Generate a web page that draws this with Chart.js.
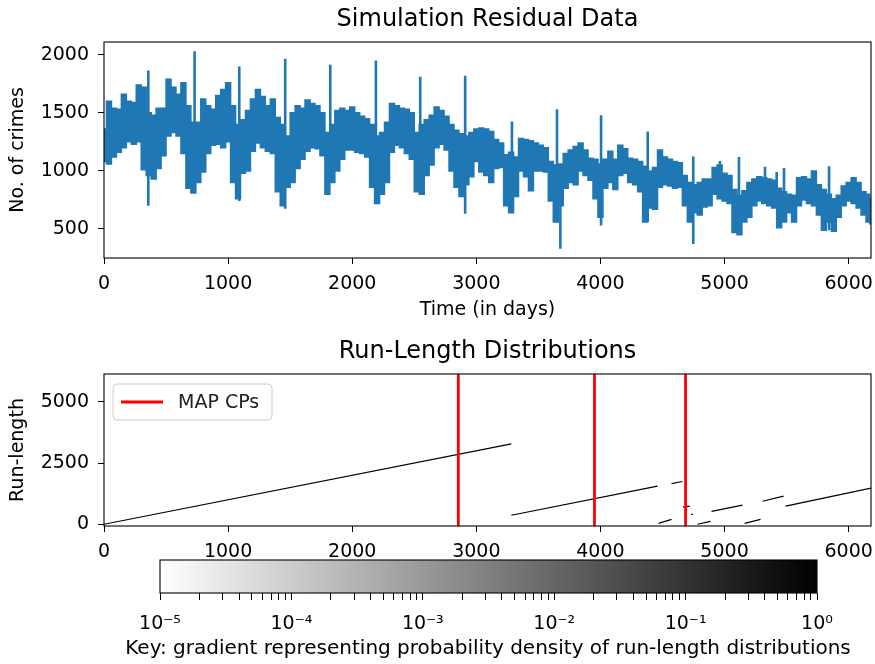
<!DOCTYPE html>
<html>
<head>
<meta charset="utf-8">
<title>Simulation Residual Data</title>
<script src="https://cdn.jsdelivr.net/npm/chart.js@4.4.1/dist/chart.umd.min.js"></script>
<style>
  html, body { margin: 0; padding: 0; background: #fff; }
  #wrap { position: relative; width: 875px; height: 664px; overflow: hidden; }
  canvas { position: absolute; }
</style>
</head>
<body>
<div id="wrap">
  <canvas id="residualChart" width="875" height="330" style="top:0;left:0"></canvas>
  <canvas id="runLengthChart" width="875" height="230" style="top:330px;left:0"></canvas>
  <canvas id="keyChart" width="750" height="109" style="top:555px;left:113px"></canvas>
</div>
<script>
// --- data ---
// residual series, as a band (upper / lower edge) sampled every 40 days
const sampleDays = [0,40,80,120,160,200,240,280,320,360,400,440,480,520,560,600,640,680,720,760,
  800,840,880,920,960,1000,1040,1080,1120,1160,1200,1240,1280,1320,1360,1400,1440,1480,1520,1560,
  1600,1640,1680,1720,1760,1800,1840,1880,1920,1960,2000,2040,2080,2120,2160,2200,2240,2280,2320,2360,
  2400,2440,2480,2520,2560,2600,2640,2680,2720,2760,2800,2840,2880,2920,2960,3000,3040,3080,3120,3160,
  3200,3240,3280,3320,3360,3400,3440,3480,3520,3560,3600,3640,3680,3720,3760,3800,3840,3880,3920,3960,
  4000,4040,4080,4120,4160,4200,4240,4280,4320,4360,4400,4440,4480,4520,4560,4600,4640,4680,4720,4760,
  4800,4840,4880,4920,4960,5000,5040,5080,5120,5160,5200,5240,5280,5320,5360,5400,5440,5480,5520,5560,
  5600,5640,5680,5720,5760,5800,5840,5880,5920,5960,6000,6040,6080,6120,6160,6180];
const upperCount = [1360,1600,1540,1530,1660,1600,1590,1740,1720,1500,1480,1540,1540,1790,1720,1660,1760,1560,1420,1420,
  1620,1560,1530,1650,1700,1760,1560,1400,1440,1520,1620,1700,1640,1560,1620,1460,1400,1300,1500,1560,
  1540,1610,1580,1560,1500,1330,1400,1520,1540,1520,1550,1500,1470,1450,1400,1300,1330,1420,1580,1560,
  1540,1530,1500,1330,1400,1440,1480,1550,1520,1470,1400,1350,1320,1300,1330,1360,1370,1360,1340,1270,
  1240,1140,1160,1120,1280,1270,1260,1240,1220,1200,1080,1050,1060,1150,1180,1210,1240,1180,1110,1100,
  1060,1100,1170,1100,1220,1190,1110,1100,1080,1040,1000,1030,1180,1120,1100,1080,1070,960,900,880,
  900,930,930,1030,1050,980,960,840,790,830,900,930,950,940,930,920,850,820,800,790,
  940,950,930,1000,880,840,800,760,790,870,900,940,900,820,800,760];
const lowerCount = [1080,1060,1120,1160,1200,1250,1230,1250,1010,960,930,1020,1130,1300,1330,1300,1150,850,810,900,
  990,1150,1220,1230,1200,1250,900,760,980,1000,1170,1240,1200,1170,1150,820,700,860,900,1020,
  1100,1170,1200,1190,1130,800,900,1000,1100,1180,1180,1160,1150,1120,860,720,800,900,1160,1220,
  1200,1150,1100,820,800,960,1050,1200,1230,1180,1000,860,780,880,950,1080,990,960,900,1020,
  1030,700,640,780,1000,950,830,1000,1000,990,740,560,700,850,900,880,1000,960,920,760,
  600,850,900,840,960,980,900,880,820,560,680,670,860,880,870,850,860,700,560,640,
  620,690,700,800,760,740,720,470,450,560,600,700,740,720,700,680,510,560,640,560,
  700,750,720,700,620,490,560,480,600,700,740,720,680,620,560,545];
// single-day spikes sticking out of the band
const spikeDays = [357,730,1090,1460,1823,2191,2548,2910,3287,3650,3677,4005,4381,4748,4963,5116,5326,5420,5479,5842];
const spikeLow  = [700,850,740,675,900,720,800,630,700,560,330,530,560,370,760,450,720,680,560,490];
const spikeHigh = [1865,2030,1900,1965,1915,1950,1810,1820,1425,1530,1000,1480,1340,1125,1085,1120,1035,990,1025,1040];

// MAP run-length segments
const runStartDay = [0,3282,4468,4573,4665,4730,4782,4895,5161,5306,5492];
const runStartLen = [0,369,40,1660,700,400,0,530,40,940,740];
const runEndDay   = [3282,4460,4573,4661,4720,4745,4887,5145,5290,5476,6180];
const runEndLen   = [3282,1557,200,1748,740,415,120,780,200,1150,1475];
// MAP change points
const cpDays = [2855,3952,4686];

// tick labels
const dayTicks = [0,1000,2000,3000,4000,5000,6000];
const crimeTicks = [500,1000,1500,2000];
const runTicks = [0,2500,5000];
const keyDecades = [1e-5,1e-4,1e-3,1e-2,1e-1,1];
const keyMinorSteps = [2,3,4,5,6,7,8,9];

// --- look ---
const BLUE = '#1f77b4';
Chart.defaults.font.family = '"DejaVu Sans", sans-serif';
Chart.defaults.font.size = 19;
Chart.defaults.color = '#000';

const frame = {
  id: 'frame',
  afterDraw(chart) {
    const {ctx, chartArea: a} = chart;
    ctx.save();
    ctx.strokeStyle = '#000';
    ctx.lineWidth = 1.1;
    ctx.strokeRect(a.left, a.top, a.right - a.left, a.bottom - a.top);
    ctx.restore();
  }
};

const mapLegend = {
  id: 'mapLegend',
  afterDatasetsDraw(chart) {
    const {ctx, chartArea: a} = chart;
    const ds = chart.data.datasets[0];
    const x = a.left + 9, y = a.top + 10, w = 159, h = 36;
    ctx.save();
    ctx.beginPath();
    ctx.roundRect(x, y, w, h, 4);
    ctx.fillStyle = 'rgba(255,255,255,0.8)';
    ctx.fill();
    ctx.strokeStyle = '#cccccc';
    ctx.lineWidth = 1;
    ctx.stroke();
    ctx.beginPath();
    ctx.moveTo(x + 8, y + h / 2);
    ctx.lineTo(x + 50, y + h / 2);
    ctx.strokeStyle = ds.borderColor;
    ctx.lineWidth = ds.borderWidth;
    ctx.stroke();
    ctx.fillStyle = '#222';
    ctx.font = '19px "DejaVu Sans"';
    ctx.textBaseline = 'middle';
    ctx.fillText(ds.label, x + 65, y + h / 2 + 1);
    ctx.restore();
  }
};

function fixTicks(list) {
  return s => { s.ticks = list.map(v => ({value: v})); };
}
function noOverhang(size, horizontal) {
  return s => {
    if (horizontal) s.height = size; else s.width = size;
    s.paddingLeft = 0; s.paddingRight = 0; s.paddingTop = 0; s.paddingBottom = 0;
  };
}
const tickGrid = {drawOnChartArea: false, color: '#000', tickLength: 6, lineWidth: 1};
const plain = v => String(v);

function xAxis(height, titleText) {
  return {
    type: 'linear', min: 0, max: 6180,
    afterBuildTicks: fixTicks(dayTicks),
    afterFit: noOverhang(height, true),
    grid: tickGrid,
    border: {display: false},
    ticks: {padding: 9, maxRotation: 0, autoSkip: false, callback: plain},
    title: titleText ? {display: true, text: titleText, padding: {top: 0, bottom: 8.6}} : {display: false}
  };
}
function panelTitle(text, padTop, padBottom) {
  return {display: true, text: text, fullSize: false, font: {size: 24, weight: 'normal'},
          padding: {top: padTop, bottom: padBottom}};
}
// empty side axis that only reserves room
function spacer(pos, width) {
  return {type: 'category', position: pos, display: true, afterFit: noOverhang(width, false),
          ticks: {display: false}, grid: {display: false}, border: {display: false}};
}

// --- top: residual data ---
const bandUpper = sampleDays.map((d, i) => ({x: d, y: upperCount[i]}));
const bandLower = sampleDays.map((d, i) => ({x: d, y: lowerCount[i]}));
const spikePts = [];
spikeDays.forEach((d, i) => {
  spikePts.push({x: d, y: spikeLow[i]}, {x: d, y: spikeHigh[i]}, {x: d, y: null});
});

new Chart(document.getElementById('residualChart'), {
  type: 'line',
  data: {
    datasets: [
      {data: bandUpper, borderColor: BLUE, borderWidth: 1.5, pointRadius: 0, stepped: 'middle', fill: false},
      {data: bandLower, borderColor: BLUE, borderWidth: 1.5, pointRadius: 0, stepped: 'middle',
       fill: '-1', backgroundColor: BLUE},
      {data: spikePts, borderColor: BLUE, borderWidth: 2.6, pointRadius: 0, fill: false, spanGaps: false}
    ]
  },
  options: {
    responsive: false, animation: false, events: [],
    layout: {padding: {left: 0, right: 4, top: 0, bottom: 0}},
    plugins: {
      legend: {display: false}, tooltip: {enabled: false},
      title: panelTitle('Simulation Residual Data', 5.6, 7.6)
    },
    scales: {
      x: xAxis(72, 'Time (in days)'),
      y: {
        type: 'linear', min: 250, max: 2110,
        afterBuildTicks: fixTicks(crimeTicks),
        afterFit: noOverhang(104, false),
        grid: tickGrid, border: {display: false},
        ticks: {padding: 9, callback: plain},
        title: {display: true, text: 'No. of crimes', padding: {top: 7, bottom: 0}}
      }
    }
  },
  plugins: [frame]
});

// --- middle: run-length distributions ---
const runMin = -70, runMax = 6135;
const runPts = [];
runStartDay.forEach((d, i) => {
  runPts.push({x: d, y: runStartLen[i]}, {x: runEndDay[i], y: runEndLen[i]}, {x: runEndDay[i], y: null});
});
const cpPts = [];
cpDays.forEach(d => { cpPts.push({x: d, y: runMin}, {x: d, y: runMax}, {x: d, y: null}); });

new Chart(document.getElementById('runLengthChart'), {
  type: 'line',
  data: {
    datasets: [
      {label: 'MAP CPs', data: cpPts, borderColor: '#ff0000', borderWidth: 2.8, pointRadius: 0, spanGaps: false},
      {label: 'run-length', data: runPts, borderColor: '#000', borderWidth: 1.2, pointRadius: 0, spanGaps: false}
    ]
  },
  options: {
    responsive: false, animation: false, events: [],
    layout: {padding: {left: 0, right: 4, top: 0, bottom: 0}},
    plugins: {
      legend: {display: false}, tooltip: {enabled: false},
      title: panelTitle('Run-Length Distributions', 7.6, 7.6)
    },
    scales: {
      x: xAxis(34, null),
      y: {
        type: 'linear', min: runMin, max: runMax,
        afterBuildTicks: fixTicks(runTicks),
        afterFit: noOverhang(104, false),
        grid: tickGrid, border: {display: false},
        ticks: {padding: 9, callback: plain},
        title: {display: true, text: 'Run-length', padding: {top: 7, bottom: 0}}
      }
    }
  },
  plugins: [frame, mapLegend]
});

// --- bottom: colour key ---
const supMap = {'-': '\u207B', '0': '\u2070', '1': '\u00B9', '2': '\u00B2', '3': '\u00B3',
                '4': '\u2074', '5': '\u2075', '6': '\u2076', '7': '\u2077', '8': '\u2078', '9': '\u2079'};
const keyTicks = [];
keyDecades.forEach((d, i) => {
  keyTicks.push(d);
  if (i < keyDecades.length - 1) keyMinorSteps.forEach(m => keyTicks.push(d * m));
});

new Chart(document.getElementById('keyChart'), {
  type: 'bar',
  data: {
    labels: ['density'],
    datasets: [{
      data: [[keyDecades[0], keyDecades[keyDecades.length - 1]]],
      borderWidth: 0, barPercentage: 1, categoryPercentage: 1,
      backgroundColor: ctx => {
        const a = ctx.chart.chartArea;
        if (!a) return '#888';
        const g = ctx.chart.ctx.createLinearGradient(a.left, 0, a.right, 0);
        g.addColorStop(0, '#ffffff');
        g.addColorStop(1, '#000000');
        return g;
      }
    }]
  },
  options: {
    indexAxis: 'y',
    responsive: false, animation: false, events: [],
    layout: {padding: {left: 0, right: 0, top: 5, bottom: 0}},
    plugins: {
      legend: {display: false}, tooltip: {enabled: false},
      title: {display: true, position: 'bottom',
              text: 'Key: gradient representing probability density of run-length distributions',
              font: {size: 20, weight: 'normal'}, padding: {top: 5, bottom: 3}}
    },
    scales: {
      x: {
        type: 'logarithmic', min: keyDecades[0], max: keyDecades[keyDecades.length - 1],
        afterBuildTicks: fixTicks(keyTicks),
        afterFit: noOverhang(39, true),
        grid: {drawOnChartArea: false, color: '#000', tickLength: 7, lineWidth: 1},
        border: {display: false},
        ticks: {
          padding: 13, maxRotation: 0, autoSkip: false,
          callback: v => {
            const e = Math.log10(v);
            if (Math.abs(e - Math.round(e)) > 1e-6) return '';
            return '10' + String(Math.round(e)).split('').map(c => supMap[c]).join('');
          }
        }
      },
      y: spacer('left', 47),
      yRight: spacer('right', 46)
    }
  },
  plugins: [frame]
});
</script>
</body>
</html>
